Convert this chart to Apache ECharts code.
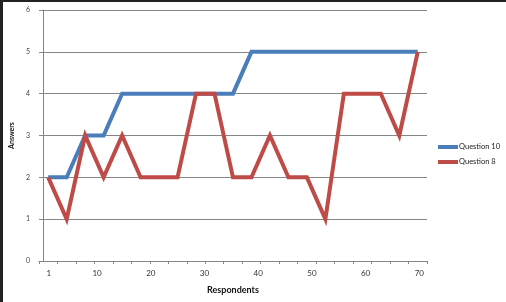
<!DOCTYPE html>
<html>
<head>
<meta charset="utf-8">
<script src="https://cdn.jsdelivr.net/npm/echarts@6/dist/echarts.min.js"></script>
<style>
html,body{margin:0;padding:0;background:#fff;}
#chart{width:506px;height:302px;}
</style>
</head>
<body>
<div id="chart"></div>
<script>
// Data
var categories = ['1','2','3','4','5','6','7','8','9','10','11','12','13','14','15','16','17','18','19','20','21'];
var question10 = [2,2,3,3,4,4,4,4,4,4,4,5,5,5,5,5,5,5,5,5,5];
var question8  = [2,1,3,2,3,2,2,2,4,4,2,2,3,2,2,1,4,4,4,3,5];
var xTickLabels = [1,10,20,30,40,50,60,70];
var yTicks = {min:0, max:6, interval:1};

var font = 'Lato, "Open Sans", sans-serif';
var chart = echarts.init(document.getElementById('chart'), null, {renderer:'canvas'});
chart.setOption({
  animation:false,
  backgroundColor:'#ffffff',
  grid:{left:38, right:79, top:10, bottom:41, containLabel:false},
  legend:{
    orient:'vertical', left:433, top:137, padding:[5,0,5,5],
    itemWidth:20, itemHeight:4, itemGap:5,
    icon:'rect',
    textStyle:{fontFamily:font, fontSize:7.5, color:'#222', lineHeight:10, padding:[0,0,0,-4]},
    data:['Question 10','Question 8']
  },
  xAxis:[
    {
      type:'category', data:categories, boundaryGap:true,
      axisLine:{lineStyle:{color:'#868686', width:1}},
      axisTick:{show:true, length:3, lineStyle:{color:'#868686'}},
      axisLabel:{show:false},
      splitLine:{show:false}
    },
    {
      type:'value', position:'bottom', min:-0.82, max:71.43,
      axisLine:{show:false}, axisTick:{show:false}, splitLine:{show:false},
      axisLabel:{show:true, customValues:xTickLabels, margin:8,
        fontFamily:font, fontSize:8, color:'#333'},
      name:'Respondents', nameLocation:'middle', nameGap:25,
      nameTextStyle:{fontFamily:font, fontSize:9, fontWeight:'bold', color:'#111'}
    }
  ],
  yAxis:{
    type:'value', min:yTicks.min, max:yTicks.max, interval:yTicks.interval,
    axisLine:{show:true, lineStyle:{color:'#868686'}},
    axisTick:{show:false},
    axisLabel:{fontFamily:font, fontSize:7, color:'#444', margin:9},
    splitLine:{lineStyle:{color:'#868686', width:1}},
    name:'Answers', nameLocation:'middle', nameGap:6, nameRotate:90,
    nameTextStyle:{fontFamily:font, fontSize:7, fontWeight:'bold', color:'#111', padding:[0,0,6,0]}
  },
  series:[
    {name:'Question 10', type:'line', xAxisIndex:0, data:question10, showSymbol:false, symbol:'none',
     lineStyle:{color:'#4a7ebb', width:4, join:'miter'}, itemStyle:{color:'#4a7ebb'}},
    {name:'Question 8', type:'line', xAxisIndex:0, data:question8, showSymbol:false, symbol:'none',
     lineStyle:{color:'#be4b48', width:4, join:'miter'}, itemStyle:{color:'#be4b48'}}
  ],
  graphic:[
    {type:'rect', left:0, top:0, shape:{x:0,y:0,width:506,height:2}, style:{fill:'#222'}, silent:true},
    {type:'rect', left:0, top:0, shape:{x:0,y:0,width:3,height:302}, style:{fill:'#222'}, silent:true}
  ]
});
</script>
</body>
</html>
